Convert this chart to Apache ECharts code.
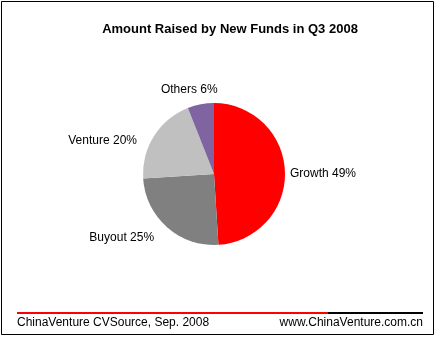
<!DOCTYPE html>
<html><head><meta charset="utf-8">
<script src="https://cdn.jsdelivr.net/npm/echarts@6/dist/echarts.min.js"></script>
<style>html,body{margin:0;padding:0;background:#fff}#c{width:437px;height:341px}</style>
</head><body><div id="c"></div>
<script>
const categories = ['Growth', 'Buyout', 'Venture', 'Others'];
const shares = [49, 25, 20, 6];
const colors = ['#FF0000', '#808080', '#C0C0C0', '#8064A2'];
const titleText = 'Amount Raised by New Funds in Q3 2008';
const sourceText = 'ChinaVenture CVSource, Sep. 2008';
const siteText = 'www.ChinaVenture.com.cn';

// label nudges (Excel-like placement), kept out of data arrays
const labelOffsets = [[-6, 2], [-4, 6], [-7, 8], [23, -9]];

const chart = echarts.init(document.getElementById('c'), null, {renderer: 'canvas'});
const font = 'Arial, "Liberation Sans", sans-serif';
chart.setOption({
  animation: false,
  title: {
    text: titleText, left: 225, top: 18, textAlign: 'center',
    textStyle: {fontFamily: font, fontSize: 13, fontWeight: 'bold', color: '#000'}
  },
  series: [{
    type: 'pie',
    center: [214, 174],
    radius: 71,
    startAngle: 90,
    clockwise: true,
    avoidLabelOverlap: false,
    label: {
      show: true, position: 'outside', fontFamily: font, fontSize: 12, color: '#000',
      formatter: p => p.name + ' ' + p.value + '%'
    },
    labelLine: {show: false, length: 6, length2: 0},
    itemStyle: {borderWidth: 0},
    emphasis: {disabled: true},
    data: categories.map((c, i) => ({
      name: c, value: shares[i],
      itemStyle: {color: colors[i]},
      label: {offset: labelOffsets[i]}
    }))
  }],
  graphic: [
    {type: 'rect', shape: {x: 1.5, y: 1.5, width: 432, height: 333}, style: {fill: null, stroke: '#000', lineWidth: 1}, silent: true},
    {type: 'rect', shape: {x: 17, y: 312, width: 311, height: 2}, style: {fill: '#FF0000'}, silent: true},
    {type: 'rect', shape: {x: 328, y: 312, width: 95, height: 2}, style: {fill: '#000'}, silent: true},
    {type: 'text', left: 17, top: 317, style: {text: sourceText, font: '12px ' + font, fill: '#000'}},
    {type: 'text', right: 14, top: 317, style: {text: siteText, font: '12px ' + font, fill: '#000', textAlign: 'right'}}
  ]
});
</script></body></html>
